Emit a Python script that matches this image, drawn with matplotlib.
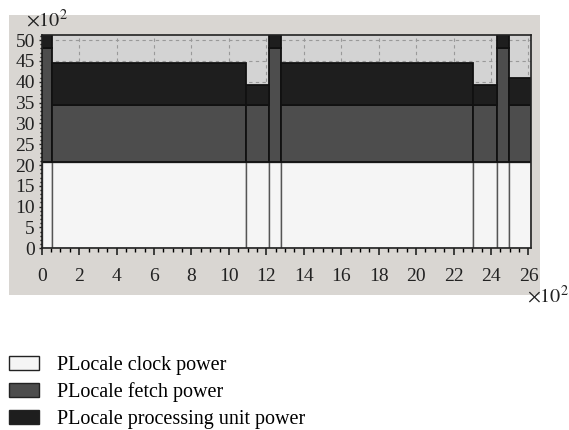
import matplotlib.pyplot as plt
from matplotlib.patches import Patch
from matplotlib.ticker import MultipleLocator

plt.rcParams['font.family'] = ['Liberation Serif', 'DejaVu Serif']
plt.rcParams['mathtext.fontset'] = 'stix'

# Time segments (x axis) and stacked power components
seg_start = [0, 57, 1090, 1214, 1278, 2305, 2432, 2496]
seg_end = [57, 1090, 1214, 1278, 2305, 2432, 2496, 2612]
clock_power = [2080, 2080, 2080, 2080, 2080, 2080, 2080, 2080]
fetch_power = [2730, 1365, 1365, 2730, 1365, 1365, 2730, 1365]
proc_power = [360, 1005, 480, 360, 1005, 480, 360, 645]

labels = ["PLocale clock power", "PLocale fetch power", "PLocale processing unit power"]
colors = ["#f5f5f5", "#4d4d4d", "#1e1e1e"]

fig = plt.figure(figsize=(5.69, 4.30), dpi=100)

# grey panel behind the plot
bg = fig.add_axes([0.0158, 0.314, 0.933, 0.65], zorder=0)
bg.set_facecolor("#d9d6d2")
bg.set_xticks([])
bg.set_yticks([])
for sp in bg.spines.values():
    sp.set_visible(False)

ax = fig.add_axes([0.0733, 0.4226, 0.8594, 0.4967], zorder=1)
ax.set_facecolor("#d3d3d3")

widths = [e - s for s, e in zip(seg_start, seg_end)]
bottom2 = [c + f for c, f in zip(clock_power, fetch_power)]
ax.bar(seg_start, clock_power, width=widths, align="edge", color=colors[0],
       edgecolor="#555555", linewidth=1, zorder=2)
ax.bar(seg_start, fetch_power, width=widths, bottom=clock_power, align="edge",
       color=colors[1], edgecolor="#111111", linewidth=1.3, zorder=2)
ax.bar(seg_start, proc_power, width=widths, bottom=bottom2, align="edge",
       color=colors[2], edgecolor="#111111", linewidth=1.3, zorder=2)

ax.set_xlim(0, 2612)
ax.set_ylim(0, 5130)
ax.xaxis.set_minor_locator(MultipleLocator(50))
ax.yaxis.set_minor_locator(MultipleLocator(100))
ax.set_xticks(range(0, 2601, 200), [str(v // 100) for v in range(0, 2601, 200)])
ax.set_yticks(range(0, 5001, 500), [str(v // 100) for v in range(0, 5001, 500)])
ax.tick_params(axis="x", which="major", length=5, width=1.2, pad=9, labelsize=14, colors="#222222")
ax.tick_params(axis="x", which="minor", length=3, width=1)
ax.tick_params(axis="y", which="major", length=2, width=1, pad=3, labelsize=14, colors="#222222")
ax.tick_params(axis="y", which="minor", length=1.5, width=1)
ax.grid(True, which="major", linestyle=(0, (3, 3)), color="#999999", linewidth=0.8, zorder=1)
ax.set_axisbelow(True)
for sp in ax.spines.values():
    sp.set_color("#222222")
    sp.set_linewidth(1.2)

fig.text(0.045, 0.953, r"$\times10^2$", fontsize=14.5, va="center", ha="left", color="#222222")
fig.text(0.926, 0.31, r"$\times10^2$", fontsize=14.5, va="center", ha="left", color="#222222")

handles = [Patch(facecolor=c, edgecolor="#222222", linewidth=1) for c in colors]
fig.legend(handles, labels, loc="upper left", bbox_to_anchor=(0.008, 0.182),
           frameon=False, fontsize=14.5, handlelength=1.5, handleheight=0.7,
           handletextpad=0.9, labelspacing=0.38, borderaxespad=0, borderpad=0.2)

fig.savefig("out.png", dpi=100)
